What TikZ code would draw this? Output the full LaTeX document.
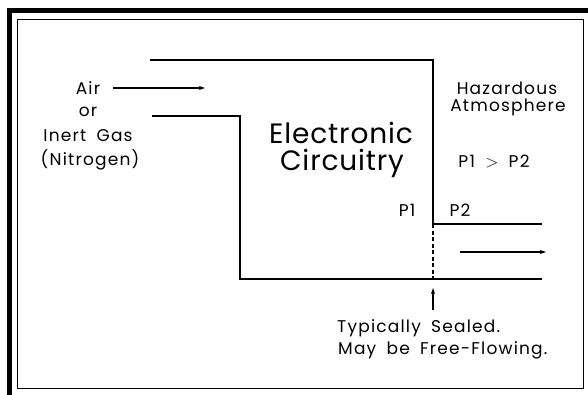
\documentclass[tikz,border=0pt]{standalone}
\usepackage{fontspec}
\setmainfont{Poppins}
\newfontfamily\widefont[LetterSpace=7,WordSpace=1.8]{Poppins}
\newfontfamily\bigfont[LetterSpace=3]{Poppins}
\usetikzlibrary{arrows.meta}
\begin{document}
\begin{tikzpicture}[x=1pt,y=-1pt,
  wall/.style={line width=1.8pt},
  flow/.style={line width=1.2pt,-{Stealth[length=6pt,width=4pt]}},
  lbl/.style={font=\widefont\fontsize{17}{19}\selectfont,inner sep=0pt,align=center},
  big/.style={font=\bigfont\fontsize{28}{32}\selectfont,inner sep=0pt}]
\useasboundingbox (0,0) rectangle (588,395);
% frame
\fill (7,8) rectangle (12,395);
\fill (7,8) rectangle (588,13);
\draw[line width=1pt] (17,20) rectangle (583,388);
% coordinates
\coordinate (u1) at (150,60);
\coordinate (u2) at (433,60);
\coordinate (u3) at (433,224);
\coordinate (u4) at (542,224);
\coordinate (l1) at (152,116);
\coordinate (l2) at (240,116);
\coordinate (l3) at (240,279);
\coordinate (l4) at (542,279);
\coordinate (d1) at (433,279);
\draw[wall] (u1) -- (u2) -- (u3) -- (u4);
\draw[wall] (l1) -- (l2) -- (l3) -- (l4);
\draw[line width=1.4pt,dash pattern=on 4pt off 2.5pt] (u3) -- (d1);
% arrows
\coordinate (a1) at (113,88);
\coordinate (a2) at (205,88);
\draw[flow] (a1) -- (a2);
\coordinate (r1) at (460,252);
\coordinate (r2) at (546,252);
\draw[flow] (r1) -- (r2);
\coordinate (s1) at (433,310);
\coordinate (s2) at (433,288);
\draw[flow] (s1) -- (s2);
% texts
\node[lbl] (air) at (88,88) {Air};
\node[lbl] (or) at (88,112) {or};
\node[lbl] (inert) at (88,136) {Inert Gas};
\node[lbl] (nitro) at (90,160) {(Nitrogen)};
\node[big] (elec) at (341,133) {Electronic};
\node[big] (circ) at (342,163) {Circuitry};
\node[lbl] (haz) at (507,88) {Hazardous};
\node[lbl] (atm) at (508,107) {Atmosphere};
\node[lbl] (ineq) at (494,161) {P1 $>$ P2};
\node[lbl] (p1) at (407,210) {P1};
\node[lbl] (p2) at (460,210) {P2};
\node[lbl,anchor=west] (seal) at (337,328) {Typically Sealed.};
\node[lbl,anchor=west] (free) at (338,350) {May be Free-Flowing.};
\end{tikzpicture}
\end{document}
